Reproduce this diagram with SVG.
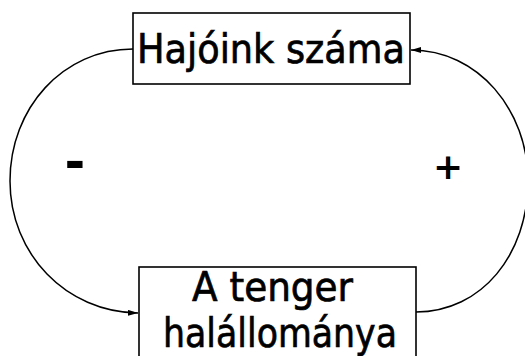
<svg xmlns="http://www.w3.org/2000/svg" width="525" height="356" viewBox="0 0 525 356">
  <style>
    .box { fill: #ffffff; stroke: #000000; stroke-width: 1.6; }
    .label { font-family: "DejaVu Sans", "Liberation Sans", sans-serif; font-size: 40px; fill: #000000; stroke: #000000; stroke-width: 0.7; }
    .sign { font-family: "DejaVu Sans", "Liberation Sans", sans-serif; font-weight: bold; fill: #000000; text-anchor: middle; }
    .link { fill: none; stroke: #000000; stroke-width: 1.5; marker-end: url(#arrow); }
  </style>
  <defs>
    <marker id="arrow" viewBox="0 0 10 6" refX="10" refY="3" markerWidth="10" markerHeight="6" markerUnits="userSpaceOnUse" orient="auto">
      <path d="M0,0 L10,3 L0,6 Z" fill="#000000"/>
    </marker>
  </defs>
  <rect width="525" height="356" fill="#ffffff"/>

  <!-- feedback loop -->
  <g id="connectors">
    <path class="link" d="M133,49 C63,49 10,108 10,181 C10,254 66,312 138,313"/>
    <path class="link" d="M416,312 C482,312 528,254 528,181 C528,110 478,50 411,50"/>
    <text class="sign" x="75" y="179" font-size="50">-</text>
    <text class="sign" x="448" y="179" font-size="36">+</text>
  </g>

  <g id="hajoink">
    <rect class="box" x="133" y="13" width="277" height="71"/>
    <text class="label" x="137" y="63" textLength="268" lengthAdjust="spacingAndGlyphs">Hajóink száma</text>
  </g>

  <g id="halallomany">
    <rect class="box" x="139" y="267" width="277" height="100"/>
    <text class="label" x="192" y="301" font-size="34" textLength="161" lengthAdjust="spacingAndGlyphs">A tenger</text>
    <text class="label" x="163" y="347" textLength="234" lengthAdjust="spacingAndGlyphs">halállománya</text>
  </g>
</svg>
